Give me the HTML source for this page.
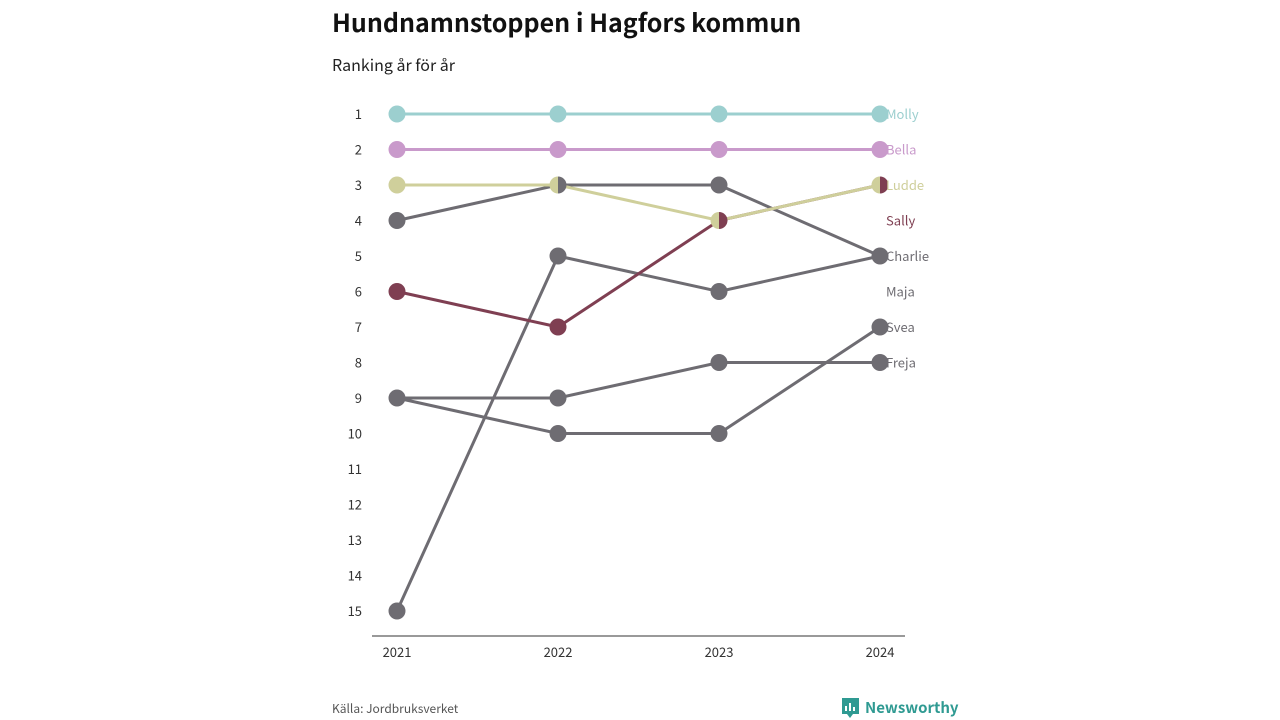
<!DOCTYPE html>
<html><head><meta charset="utf-8">
<style>
body{margin:0;background:#fff;width:1280px;height:720px;overflow:hidden;font-family:"Noto Sans CJK SC","Liberation Sans",sans-serif;}
#title{position:absolute;left:332px;top:4px;font-size:25px;font-weight:bold;color:#111;margin:0}
#sub{position:absolute;left:332px;top:52px;font-size:16px;color:#222}
#src{position:absolute;left:332px;top:700px;font-size:12px;color:#555}
#logo{position:absolute;left:842px;top:697px;font-size:15px;font-weight:bold;color:#2f9a92;display:flex;align-items:center;gap:6px}
svg{position:absolute;left:0;top:0}
</style></head><body>
<h1 id="title">Hundnamnstoppen i Hagfors kommun</h1>
<div id="sub">Ranking år för år</div>
<div id="src">Källa: Jordbruksverket</div>
<div id="logo"><svg style="position:static" width="17" height="20" viewBox="0 0 17 20"><path d="M0 0h17v16h-6l-3 4-3-4H0z" fill="#2f9a92"/><rect x="3" y="8" width="2" height="5" fill="#fff"/><rect x="7" y="5" width="2" height="8" fill="#fff"/><rect x="11" y="9" width="2" height="4" fill="#fff"/></svg>Newsworthy</div>
<svg id="chart" width="1280" height="720"></svg>
<script>
const years=["2021","2022","2023","2024"];
const rankTicks=[1,2,3,4,5,6,7,8,9,10,11,12,13,14,15];
const names=["Molly","Bella","Ludde","Sally","Charlie","Maja","Svea","Freja"];
const molly=[1,1,1,1];
const bella=[2,2,2,2];
const ludde=[3,3,4,3];
const sally=[6,7,4,3];
const charlie=[4,3,3,5];
const maja=[15,5,6,5];
const svea=[9,10,10,7];
const freja=[9,9,8,8];
const colors=["#9ccfcf","#c99acb","#cfcf9b","#7f3f52","#6e6c72","#6e6c72","#6e6c72","#6e6c72"];
const seriesVals=[molly,bella,ludde,sally,charlie,maja,svea,freja];
const NS="http://www.w3.org/2000/svg";
const svg=document.getElementById('chart');
const x=i=>397+i*(880-397)/(years.length-1);
const y=r=>114+(r-1)*(611-114)/14;
function mk(t,a){const e=document.createElementNS(NS,t);for(const k in a)e.setAttribute(k,a[k]);svg.appendChild(e);return e;}
let ax=mk('line',{x1:372,x2:905,y1:636,y2:636,stroke:'#333','stroke-width':1});

years.forEach((yr,i)=>{const t=mk('text',{x:x(i),y:657,'text-anchor':'middle','font-size':13,fill:'#333'});t.textContent=yr;
});
rankTicks.forEach(r=>{const t=mk('text',{x:362,y:y(r)+5,'text-anchor':'end','font-size':13,fill:'#333'});t.textContent=r;
});
// lines: grays first
const order=[4,5,6,7,3,2,1,0];
order.forEach(s=>{const v=seriesVals[s];
const p=mk('polyline',{points:v.map((r,i)=>x(i)+','+y(r)).join(' '),fill:'none',stroke:colors[s],'stroke-width':3});
});
// points with tie handling
years.forEach((yr,i)=>{const groups={};
order.forEach(s=>{const r=seriesVals[s][i];(groups[r]=groups[r]||[]).push(s);});
for(const r in groups){const g=groups[r];const cx=x(i),cy=y(+r),R=8.5;
if(g.length===1){const c=mk('circle',{cx,cy,r:R,fill:colors[g[0]]});
}
else{const a=g[g.length-1],b=g[0];
const l=mk('path',{d:`M${cx} ${cy-R}A${R} ${R} 0 0 0 ${cx} ${cy+R}Z`,fill:colors[a]});

const rr=mk('path',{d:`M${cx} ${cy-R}A${R} ${R} 0 0 1 ${cx} ${cy+R}Z`,fill:colors[b]});
}}});
names.forEach((n,k)=>{const t=mk('text',{x:886,y:y(k+1)+5,'font-size':13,fill:colors[k]});t.textContent=n;
});
</script>
</body></html>
